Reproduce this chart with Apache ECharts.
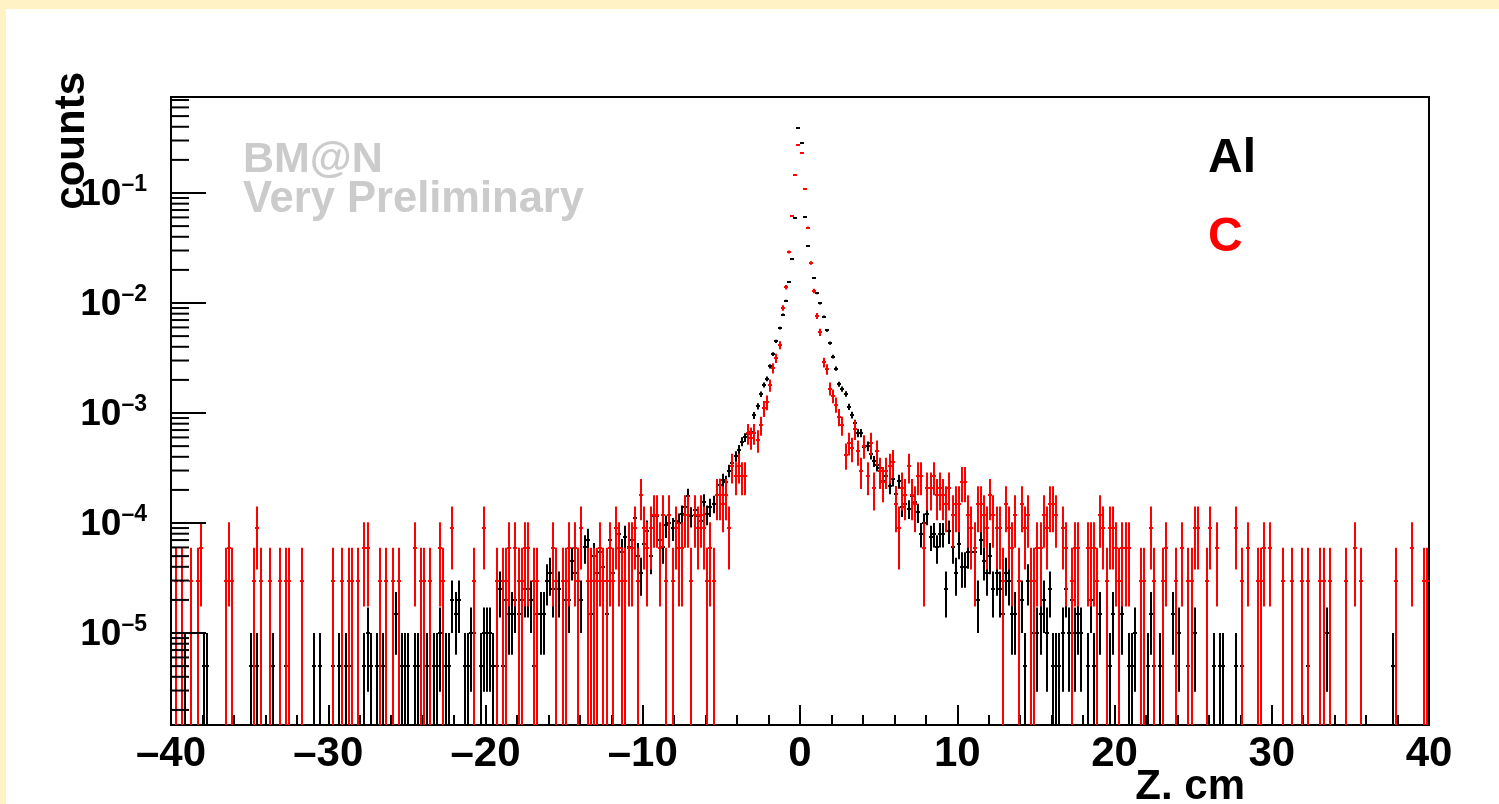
<!DOCTYPE html>
<html><head><meta charset="utf-8">
<script src="https://cdn.jsdelivr.net/npm/echarts@6/dist/echarts.min.js"></script>
<style>
html,body{margin:0;padding:0;background:#fff3c6;}
#wrap{position:relative;width:1499px;height:804px;}
#panel{position:absolute;left:6px;top:9px;right:0;bottom:0;background:#ffffff;}
#c{position:absolute;left:0;top:0;width:1499px;height:804px;}
</style>
</head><body><div id="wrap"><div id="panel"></div><div id="c"></div></div>
<script>
// ---- data (histogram: 400 bins of 0.2 cm, bin k centred at z = 0.2*k - 0.1) ----
const binWidth = 0.2;
const alUnit = 5.0e-6;   // per-entry weight, Al
const cUnit = 2.98e-5;   // per-entry weight, C

const alTailBins = [-195,-189,-188,-174,-172,-167,-163,-154,-152,-148,-146,-144,-143,-138,-137,-136,-134,-132,-128,-126,-125,-124,-122,-121,-118,-116,-115,-114,-112,-111,-110,-109,-108,-106,-105,-104,-103,-101,-100,-99,-98,-97,-96,-95,-94,-93,-92,-91,-90,-89,-88,-87,-86,-85,-84,-83,-82,-81,-80,-79,-78,-77,-76,-75,-74,-73,-72,-71,-70,-69,
  68,69,71,72,73,75,76,77,78,79,80,81,82,83,84,85,86,87,88,89,90,92,93,94,96,99,100,103,105,106,107,111,112,113,115,119,120,121,124,126,132,134,135,139,141,162,168,189];
const alTailCounts = [1,1,1,1,1,1,1,1,1,1,1,1,1,1,2,1,1,1,3,1,1,1,1,1,1,1,1,2,1,1,4,3,4,1,1,2,2,1,2,2,2,1,1,5,1,4,3,3,4,3,4,5,5,4,1,3,3,3,6,7,5,6,5,6,4,4,9,7,6,4,
  3,3,4,1,6,2,2,3,4,2,5,1,1,1,2,5,2,4,2,3,2,1,4,1,3,1,3,3,1,1,2,1,3,1,1,3,1,2,1,2,1,1,1,1,1,1,2,1];
const alCoreStart = -68;
const alCoreCounts = [12,14,3,10,7,11,8,3,14,7,
  18,16,11,15,12,14,22,10,7,13,
  17,10,23,23,14,12,19,20,18,21,
  20,24,28,35,23,26,23,21,31,24,
  28,30,36,44,49,47,60,70,81,93,
  110,120,130,135,190,230,297,360,410,532,
  687,897,1185,1566,2099,3105,4990,11850,78000,56600,
  12170,6590,4600,3396,2449,1987,1500,1130,865,650,
  506,366,330,298,228,192,161,132,132,99,
  100,85,73,67,63,48,53,43,50,37,
  48,28,30,27,35,31,25,16,20,24,
  15,16,12,16,16,5,17,12,7,13,
  8,8,11,11,11,4,14,9,7,10,
  5,7,5,3,7,6];

const cTailBins = [-198,-196,-193,-191,-190,-182,-181,-180,-173,-172,-171,-168,-165,-163,-162,-158,-148,-145,-143,-142,-140,-138,-137,-133,-131,-129,-127,-122,-120,-119,-117,-114,-113,-110,-103,-100,-96,-94,-93,-92,-90,-89,-88,-87,-86,-84,-83,-78,-77,-75,-74,-73,-71,-70,-69,-67,
  68,69,70,71,72,73,74,75,76,77,78,79,80,81,82,84,85,87,88,89,92,93,94,95,96,97,98,99,100,101,102,103,104,105,109,110,112,113,116,117,120,122,124,125,126,127,130,131,133,139,141,143,146,147,148,150,154,157,160,162,166,167,169,174,177,179,190,195,199,200];
const cTailCounts = [1,1,1,1,2,1,2,1,1,3,1,1,1,1,1,1,1,1,1,1,1,2,2,1,1,1,1,2,1,1,1,2,1,3,1,3,1,1,1,2,2,1,1,2,2,1,1,2,1,1,1,2,2,1,3,1,
  2,4,1,5,3,4,1,1,2,2,4,3,5,5,4,3,2,1,2,2,2,2,2,1,4,3,1,3,3,2,1,2,2,2,1,1,3,1,1,2,1,2,1,1,3,3,1,3,2,3,1,2,1,1,2,2,1,1,1,1,1,1,1,1,2,1,1,2,1,1];
const cCoreStart = -66;
const cCoreCounts = [1,1,1,2,1,1,2,1,3,2,
  1,1,2,2,3,1,6,3,2,3,
  4,4,2,4,1,4,1,3,2,2,
  4,4,1,4,3,4,3,1,2,1,
  6,6,5,6,3,11,9,11,9,9,
  22,20,22,19,26,37,42,60,86,106,
  139,303,467,977,2075,4930,9180,7710,3630,1625,
  777,432,256,182,97,84,56,48,40,31,
  26,14,18,16,24,15,10,17,9,18,
  7,15,10,8,10,11,12,5,3,7,
  6,11,6,5,9,9,2,7,7,9,
  6,7,6,5,7,4,5,5,8,8,
  4,3,2,5,5,4,3,6,4,3,
  3,1,5,3];

const xTicks = [-40,-30,-20,-10,0,10,20,30,40];
const yDecades = [-5,-4,-3,-2,-1];
const yMinorMult = [2,3,4,5,6,7,8,9];
const xTitle = 'Z. cm', yTitle = 'counts';
const seriesNames = ['Al', 'C'];
const seriesColors = ['#000000', '#ff0000'];

const yMin = 1.459e-6, yMax = 0.7458;

function buildPoints(tb, tc, cs, cc, unit) {
  const m = new Map();
  tb.forEach((b, i) => m.set(b, tc[i]));
  cc.forEach((n, i) => m.set(cs + i, n));
  const pts = [];
  [...m.keys()].sort((a, b) => a - b).forEach(b => {
    const n = m.get(b);
    if (n <= 0) return;
    const z = binWidth * b - binWidth / 2;
    const v = n * unit, e = Math.sqrt(n) * unit;
    pts.push([z, v, Math.max(v - e, yMin * 0.01), v + e]);
  });
  return pts;
}
const alPts = buildPoints(alTailBins, alTailCounts, alCoreStart, alCoreCounts, alUnit);
const cPts = buildPoints(cTailBins, cTailCounts, cCoreStart, cCoreCounts, cUnit);

const yTickData = [];
for (let d = -6; d <= 0; d++) {
  if (yDecades.includes(d)) yTickData.push([-40, Math.pow(10, d), 1]);
  yMinorMult.forEach(m => {
    const v = m * Math.pow(10, d);
    if (v > yMin && v < yMax) yTickData.push([-40, v, 0]);
  });
}

function errRender(color) {
  return function (params, api) {
    const z = api.value(0), v = api.value(1), lo = api.value(2), hi = api.value(3);
    const t = api.coord([z, hi]), b = api.coord([z, lo]);
    const l = api.coord([z - binWidth / 2, v]), r = api.coord([z + binWidth / 2, v]);
    const xs = Math.round(t[0]);
    const ym = Math.round(l[1]);
    return {
      type: 'group',
      children: [
        { type: 'line', shape: { x1: xs, y1: t[1], x2: xs, y2: b[1] }, style: { stroke: color, lineWidth: 2 } },
        { type: 'line', shape: { x1: xs - 2, y1: ym, x2: xs + 2, y2: ym }, style: { stroke: color, lineWidth: 2 } }
      ]
    };
  };
}

const FONT = "'Liberation Sans', Arial, Helvetica, sans-serif";
const chart = echarts.init(document.getElementById('c'), null, { renderer: 'canvas' });
chart.setOption({
  backgroundColor: 'transparent',
  animation: false,
  grid: { left: 171, right: 70, top: 97, bottom: 79, show: true, borderColor: '#000', borderWidth: 2, backgroundColor: 'transparent' },
  xAxis: {
    type: 'value', min: -40, max: 40, interval: 10,
    axisLine: { show: true, onZero: false, lineStyle: { color: '#000', width: 2 } },
    axisTick: { show: true, inside: true, length: 20, lineStyle: { color: '#000', width: 2 } },
    minorTick: { show: true, splitNumber: 5, length: 10, lineStyle: { color: '#000', width: 2 } },
    splitLine: { show: false }, minorSplitLine: { show: false },
    axisLabel: {
      margin: 8, color: '#000', fontFamily: FONT, fontWeight: 'bold', fontSize: 42,
      formatter: v => (xTicks.includes(v) ? (v < 0 ? '\u2013' + Math.abs(v) : String(v)) : '')
    }
  },
  yAxis: {
    type: 'log', logBase: 10, min: yMin, max: yMax,
    axisLine: { show: true, onZero: false, lineStyle: { color: '#000', width: 2 } },
    axisTick: { show: false }, splitLine: { show: false },
    axisLabel: {
      margin: 24, showMinLabel: false, showMaxLabel: false,
      formatter: v => {
        const lg = Math.log10(v), e = Math.round(lg);
        if (Math.abs(lg - e) > 0.01 || !yDecades.includes(e)) return '';
        return '{b|10}{s|\u2013' + Math.abs(e) + '}';
      },
      rich: {
        b: { fontFamily: FONT, fontWeight: 'bold', fontSize: 37, color: '#000', lineHeight: 40, verticalAlign: 'bottom' },
        s: { fontFamily: FONT, fontWeight: 'bold', fontSize: 23, color: '#000', lineHeight: 40, verticalAlign: 'top', padding: [0, 0, 16, 0] }
      }
    }
  },
  series: [
    {
      type: 'custom', name: 'yticks', data: yTickData, clip: true, silent: true, z: 5,
      renderItem: (params, api) => {
        const p = api.coord([api.value(0), api.value(1)]);
        const len = api.value(2) ? 35 : 18;
        return { type: 'line', shape: { x1: p[0], y1: p[1], x2: p[0] + len, y2: p[1] }, style: { stroke: '#000', lineWidth: 2 } };
      }
    },
    { type: 'custom', name: seriesNames[0], data: alPts, clip: true, silent: true, z: 3, renderItem: errRender(seriesColors[0]) },
    { type: 'custom', name: seriesNames[1], data: cPts, clip: true, silent: true, z: 4, renderItem: errRender(seriesColors[1]) }
  ],
  graphic: [
    { type: 'text', x: 243, y: 160.5, style: { text: 'BM@N', fill: '#cbcbcb', font: 'bold 43px ' + FONT, align: 'left', verticalAlign: 'middle' } },
    { type: 'text', x: 243, y: 200, style: { text: 'Very Preliminary', fill: '#cbcbcb', font: 'bold 43.5px ' + FONT, align: 'left', verticalAlign: 'middle' } },
    { type: 'text', x: 1208, y: 159, style: { text: seriesNames[0], fill: seriesColors[0], font: 'bold 48px ' + FONT, align: 'left', verticalAlign: 'middle' } },
    { type: 'text', x: 1208, y: 238, style: { text: seriesNames[1], fill: seriesColors[1], font: 'bold 48px ' + FONT, align: 'left', verticalAlign: 'middle' } },
    { type: 'text', x: 1245, y: 787, style: { text: xTitle, fill: '#000', font: 'bold 42px ' + FONT, align: 'right', verticalAlign: 'middle' } },
    { type: 'text', x: 72, y: 72, rotation: Math.PI / 2, style: { text: yTitle, fill: '#000', font: 'bold 42px ' + FONT, align: 'right', verticalAlign: 'middle' } }
  ]
});
</script>
</body></html>
